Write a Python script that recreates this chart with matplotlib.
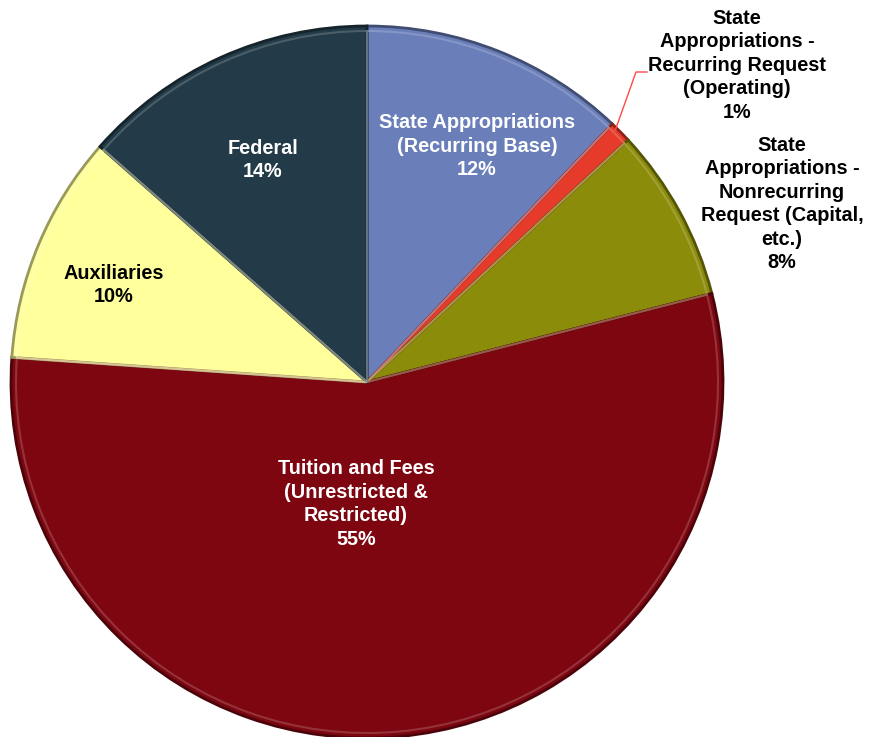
import numpy as np
import matplotlib
matplotlib.use('Agg')
from matplotlib import pyplot as plt
from matplotlib.colors import to_rgb

# revenue sources, clockwise from the top
labels = ['State Appropriations\n(Recurring Base)\n12%',
          'State\nAppropriations -\nRecurring Request\n(Operating)\n1%',
          'State\nAppropriations -\nNonrecurring\nRequest (Capital,\netc.)\n8%',
          'Tuition and Fees\n(Unrestricted &\nRestricted)\n55%',
          'Auxiliaries\n10%',
          'Federal\n14%']
shares = [12.1, 1.0, 7.9, 55.1, 10.4, 13.5]
colors = ['#6A7FBA', '#E63B2B', '#8C8C0B', '#7D0610', '#FFFF9C', '#233B48']
text_colors = ['white', 'black', 'black', 'white', 'black', 'white']

# label centres in pixel coords (x, y from top)
label_pos = [(477, 146), (737, 65), (782, 204), (356, 504), (114, 285), (263, 160)]

W, H = 873, 737
fig = plt.figure(figsize=(W / 100, H / 100), dpi=100)
ax = fig.add_axes([0, 0, 1, 1])

cx, cy, r = 367, H - 382, 356


def shade(c, f):
    c = np.array(to_rgb(c))
    if f < 1:
        return tuple(c * f)
    return tuple(c + (1 - c) * (f - 1))


wedges, _ = ax.pie(shares, colors=colors, startangle=90, counterclock=False,
                   center=(cx, cy), radius=r, frame=True,
                   wedgeprops=dict(linewidth=2.0))
for w, c in zip(wedges, colors):
    w.set_edgecolor(shade(c, 0.6))

# bevel highlight
hl, _ = ax.pie(shares, startangle=90, counterclock=False,
               center=(cx, cy), radius=r - 5, frame=True,
               wedgeprops=dict(linewidth=1.5, fill=False))
for w, c in zip(hl, colors):
    w.set_edgecolor(shade(c, 1.3))
    w.set_alpha(0.6)

ax.set_xlim(0, W)
ax.set_ylim(0, H)
ax.set_aspect('equal')
ax.axis('off')

font = ['Liberation Sans', 'DejaVu Sans']
for lab, (x, y), tc in zip(labels, label_pos, text_colors):
    ax.text(x, H - y, lab, ha='center', va='center', color=tc, fontsize=14.3,
            fontweight='bold', family=font, linespacing=1.3)

# leader line for the 1% slice
ax.plot([615, 636, 647], [H - 131, H - 72, H - 72], color='#FF4A4A', lw=1.0)

fig.savefig('out.png', dpi=100)
